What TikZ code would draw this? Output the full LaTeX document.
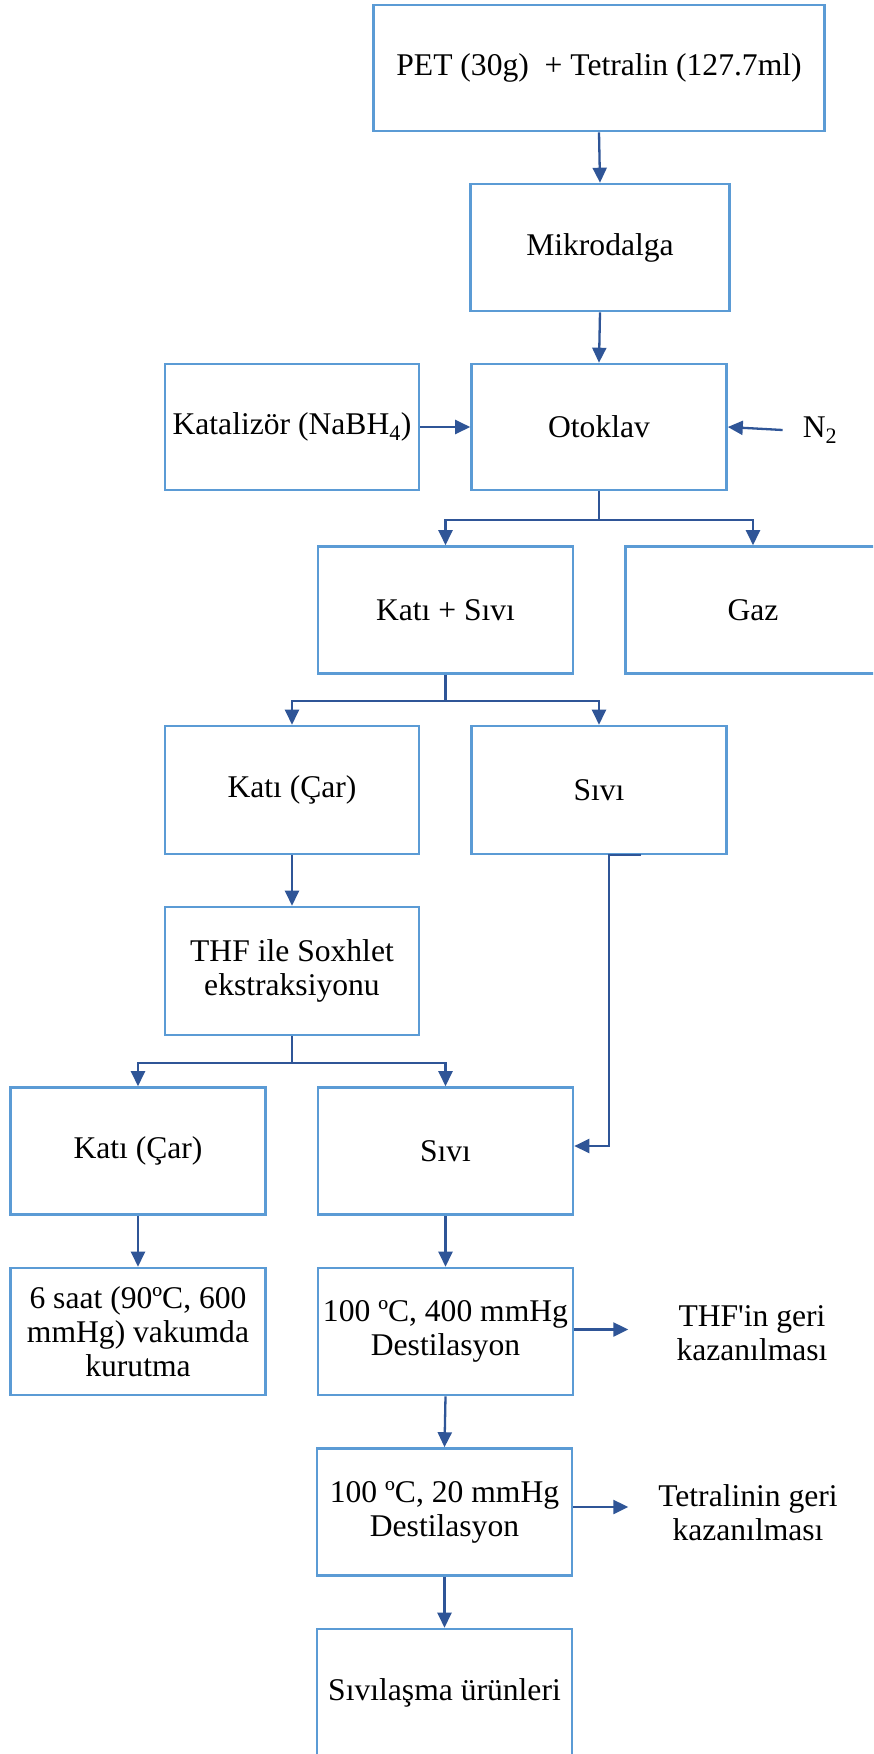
\documentclass[tikz,border=0pt]{standalone}
\usepackage{fontspec}
\setmainfont{Liberation Serif}
\usetikzlibrary{arrows.meta,calc}
\definecolor{boxblue}{HTML}{5B9BD5}
\definecolor{arrblue}{HTML}{2F5597}
\begin{document}
\begin{tikzpicture}[x=1pt,y=-1pt,
  box/.style={draw=boxblue,line width=2.6pt,minimum height=127pt,minimum width=255pt,
    align=center,inner sep=2pt,font=\fontsize{31.6}{34}\selectfont},
  lbl/.style={align=center,inner sep=0pt,font=\fontsize{31.6}{34}\selectfont},
  arr/.style={draw=arrblue,line width=2.3pt,-{Triangle[length=15pt,width=14pt]}},
  ln/.style={draw=arrblue,line width=2.3pt}]
\path[use as bounding box,clip] (0,0) rectangle (873,1754);
\fill[white] (0,0) rectangle (873,1754);
% nodes
\node[box,minimum width=451pt,minimum height=126pt] (pet) at (599,68) {PET (30g)\ \ + Tetralin (127.7ml)};
\node[box,minimum width=259pt] (mik) at (600,247.5) {Mikrodalga};
\node[box,minimum height=126pt] (oto) at (599,427) {Otoklav};
\node[box,minimum width=254pt,minimum height=126pt] (kat) at (292,427) {Katalizör (NaBH\textsubscript{4})};
\node[lbl] (n2) at (820,430) {N\textsubscript{2}};
\node[box] (ks) at (445.5,610) {Katı + Sıvı};
\node[box] (gaz) at (753,610) {Gaz};
\node[box,minimum width=254pt,minimum height=128pt] (kc1) at (292,790) {Katı (Çar)};
\node[box,minimum height=128pt] (sv1) at (599,790) {Sıvı};
\node[box,minimum width=254pt,minimum height=128pt] (thf) at (292,971) {THF ile Soxhlet\\ekstraksiyonu};
\node[box] (kc2) at (138,1151) {Katı (Çar)};
\node[box] (sv2) at (445.5,1151) {Sıvı};
\node[box] (saat) at (138,1331.5) {6 saat (90ºC, 600\\mmHg) vakumda\\kurutma};
\node[box] (d400) at (445.5,1331.5) {100 ºC, 400 mmHg\\Destilasyon};
\node[lbl] (thfr) at (752,1333) {THF\textquotesingle in geri\\kazanılması};
\node[box] (d20) at (444.5,1512) {100 ºC, 20 mmHg\\Destilasyon};
\node[lbl] (tetr) at (748,1513) {Tetralinin geri\\kazanılması};
\node[box] (slv) at (444.5,1692.5) {Sıvılaşma ürünleri};
% connectors
\draw[arr] (pet.south) -- (mik.north);
\draw[arr] (mik.south) -- (oto.north);
\draw[arr] (kat.east) -- (oto.west);
\draw[arr] ([xshift=-20pt]n2.west) -- (oto.east);
\draw[ln] (oto.south) -- ++(0,29) coordinate (b1);
\draw[arr] (b1) -| (ks.north);
\draw[arr] (b1) -| (gaz.north);
\draw[ln] (ks.south) -- ++(0,26) coordinate (b2);
\draw[arr] (b2) -| (kc1.north);
\draw[arr] (b2) -| (sv1.north);
\draw[arr] (kc1.south) -- (thf.north);
\draw[ln] (thf.south) -- ++(0,26.5) coordinate (b3);
\draw[arr] (b3) -| (kc2.north);
\draw[arr] (b3) -| (sv2.north);
\draw[arr] ($(sv1.south)+(42,0)$) -- ++(-32,0) |- ([yshift=5pt]sv2.east);
\draw[arr] (kc2.south) -- (saat.north);
\draw[arr] (sv2.south) -- (d400.north);
\draw[arr] ([yshift=2pt]d400.east) -- ++(54,0);
\draw[arr] (d400.south) -- (d20.north);
\draw[arr] ([yshift=5pt]d20.east) -- ++(55,0);
\draw[arr] (d20.south) -- (slv.north);
\end{tikzpicture}
\end{document}
